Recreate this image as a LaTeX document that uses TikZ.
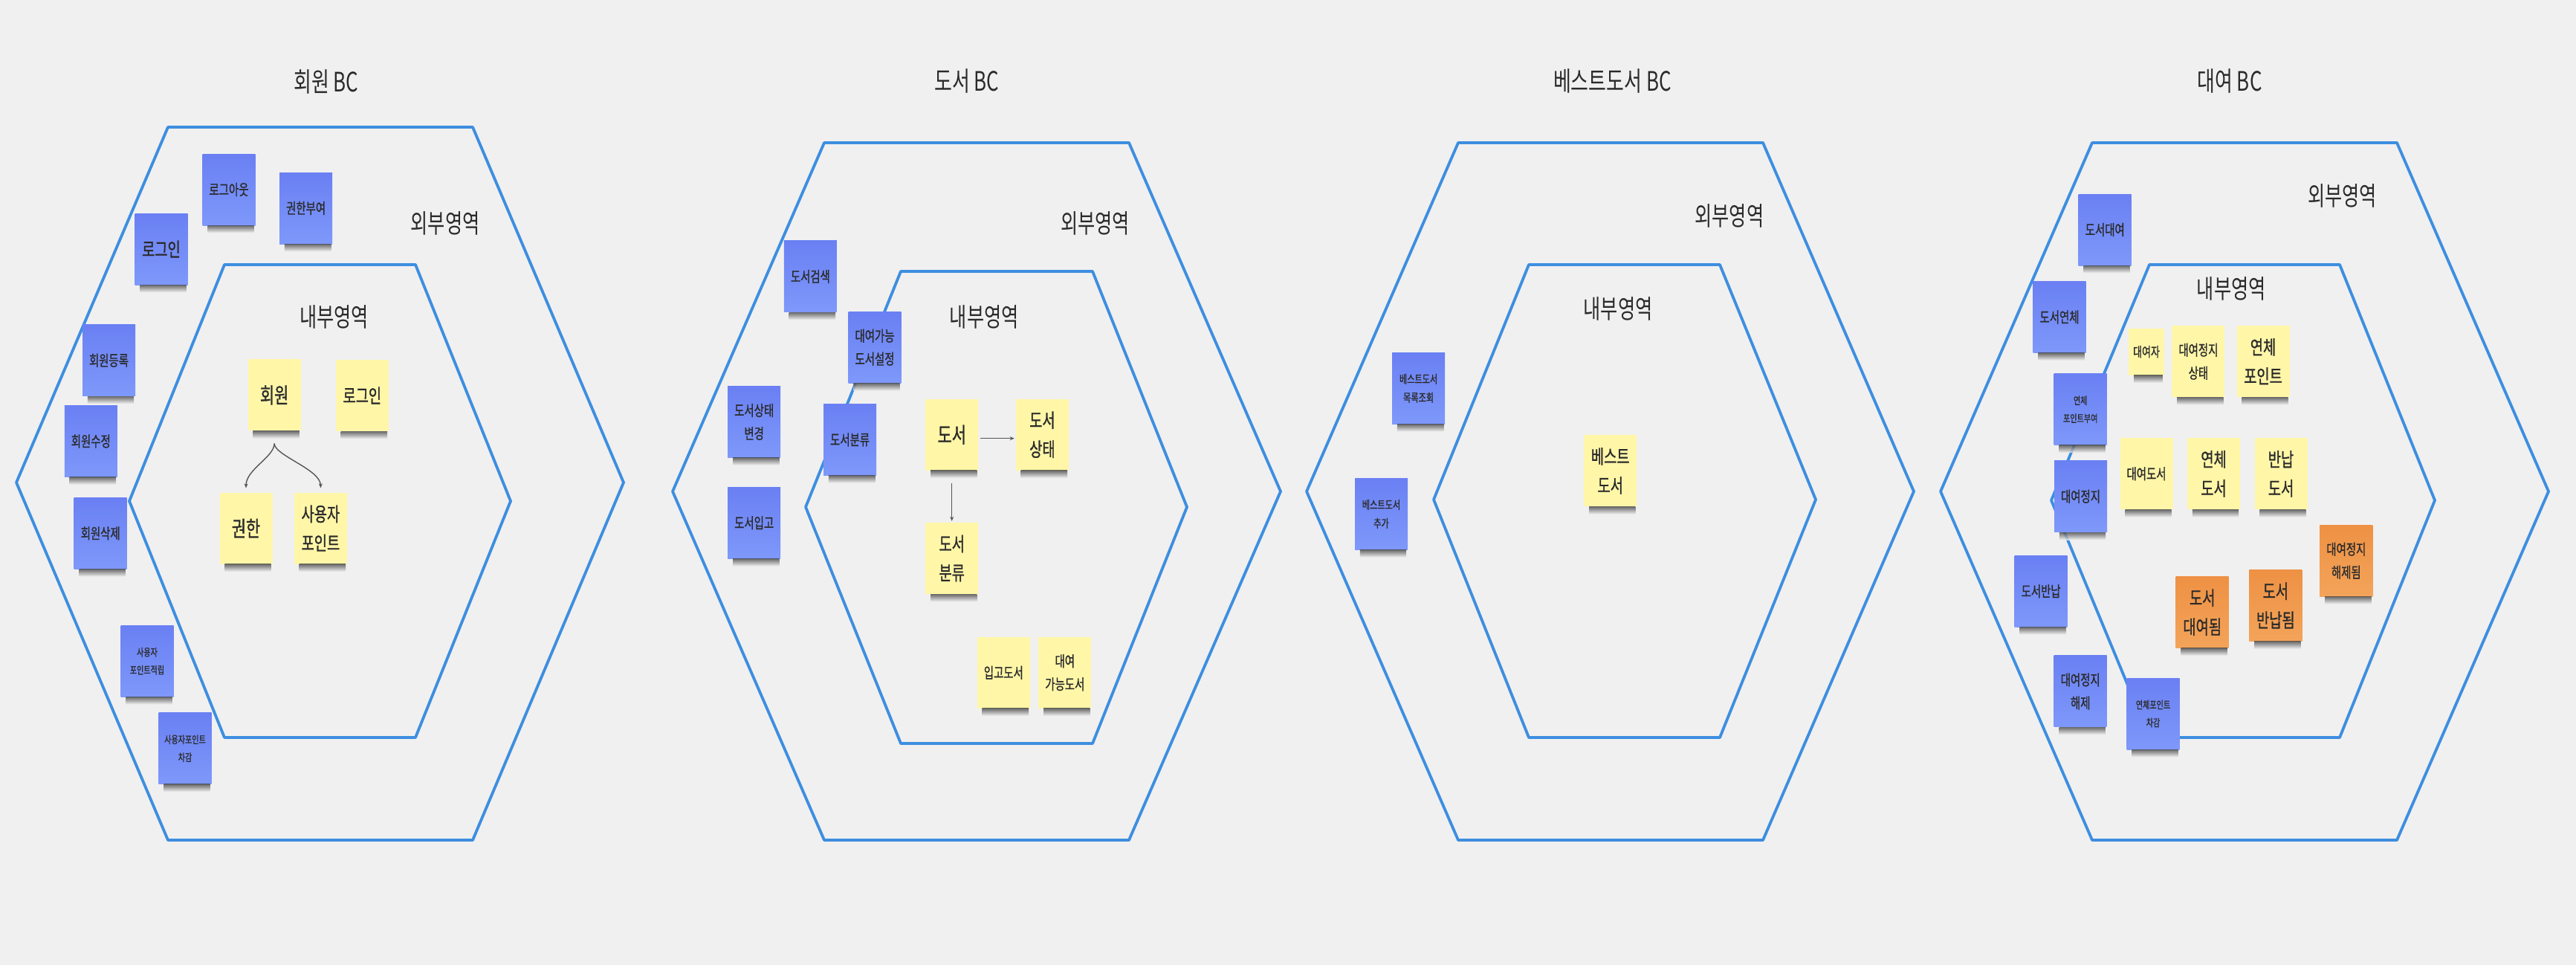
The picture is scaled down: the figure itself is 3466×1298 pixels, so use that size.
\documentclass[tikz,border=0pt]{standalone}
\usepackage{fontspec}
\newfontfamily\kr[FakeStretch=0.72]{Noto Sans CJK KR}
\newfontfamily\krb[FakeStretch=0.72,FakeBold=0.9]{Noto Sans CJK KR}
\usetikzlibrary{arrows.meta}
\definecolor{bg}{HTML}{F0F0F0}
\definecolor{hexblue}{HTML}{3D8EE0}
\definecolor{bluetop}{RGB}{106,128,243}
\definecolor{bluebot}{RGB}{126,152,250}
\definecolor{yel}{HTML}{FFF6A8}
\definecolor{orgtop}{HTML}{EE9144}
\definecolor{orgbot}{HTML}{F3A45A}
\definecolor{txt}{HTML}{2A2A2A}
\definecolor{shadowc}{HTML}{4A4A4A}
\definecolor{conncol}{HTML}{555555}
\newcommand\szT{\fontsize{36}{44}\selectfont}
\newcommand\szR{\fontsize{35}{42}\selectfont}
\newcommand\szA{\fontsize{29}{40}\selectfont}
\newcommand\szB{\fontsize{26}{39}\selectfont}
\newcommand\szC{\fontsize{20}{31}\selectfont}
\newcommand\szD{\fontsize{14}{24}\selectfont}
\newcommand\szE{\fontsize{15.5}{25}\selectfont}
\newcommand\szF{\fontsize{18}{26}\selectfont}
\tikzset{
  sticky/.style={minimum width=71pt, minimum height=96pt, inner sep=0pt, align=center, text=txt},
  bluenote/.style={sticky, top color=bluetop, bottom color=bluebot},
  yellownote/.style={sticky, fill=yel},
  orangenote/.style={sticky, top color=orgtop, bottom color=orgbot},
  smallnote/.style={minimum width=47.5pt, minimum height=63pt},
  hexline/.style={draw=hexblue, line width=3.8pt, line join=round},
  lbl/.style={text=txt, inner sep=0pt},
  conn/.style={draw=conncol, line width=1.4pt, -{Stealth[length=6pt,width=5pt]}}
}
% #1 style, #2 name, #3 position, #4 font size, #5 text
\newcommand\sticky[5]{%
  \node[#1, font=\krb#4] (#2) at (#3) {#5};
  \shade[top color=shadowc, bottom color=bg, opacity=.8]
    ([xshift=7pt]#2.south west) rectangle ([xshift=-2pt,yshift=-10pt]#2.south east);
}
\begin{document}
\begin{tikzpicture}[x=1pt,y=-1pt]
\fill[bg] (0,0) rectangle (3466,1298);
\useasboundingbox (0,0) rectangle (3466,1298);

% ---------------- hexagons
\draw[hexline] (22,649) -- (226,171) -- (636,171) -- (839,649) -- (636,1130) -- (226,1130) -- cycle;
\draw[hexline] (174,674) -- (302,356) -- (559,356) -- (687,674) -- (559,992) -- (302,992) -- cycle;
\draw[hexline] (905,661) -- (1109,192) -- (1519,192) -- (1723,661) -- (1519,1130) -- (1109,1130) -- cycle;
\draw[hexline] (1084,682) -- (1212,365) -- (1470,365) -- (1597,682) -- (1470,1000) -- (1212,1000) -- cycle;
\draw[hexline] (1758,661) -- (1962,192) -- (2372,192) -- (2575,661) -- (2372,1130) -- (1962,1130) -- cycle;
\draw[hexline] (1929,672) -- (2057,356) -- (2314,356) -- (2443,672) -- (2314,992) -- (2057,992) -- cycle;
\draw[hexline] (2611,661) -- (2815,192) -- (3225,192) -- (3429,661) -- (3225,1130) -- (2815,1130) -- cycle;
\draw[hexline] (2760,673) -- (2892,356) -- (3148,356) -- (3276,673) -- (3148,992) -- (2892,992) -- cycle;

% ---------------- titles and area labels
\node[lbl, font=\kr\szT] (t1) at (438.8,110.5) {회원 BC};
\node[lbl, font=\kr\szT] (t2) at (1300.7,109) {도서 BC};
\node[lbl, font=\kr\szT] (t3) at (2169.4,109) {베스트도서 BC};
\node[lbl, font=\kr\szT] (t4) at (3000,109) {대여 BC};
\node[lbl, font=\kr\szR] (o1) at (599,300.6) {외부영역};
\node[lbl, font=\kr\szR] (o2) at (1473.4,300.6) {외부영역};
\node[lbl, font=\kr\szR] (o3) at (2326.8,290) {외부영역};
\node[lbl, font=\kr\szR] (o4) at (3151.4,263.4) {외부영역};
\node[lbl, font=\kr\szR] (i1) at (449.7,426.2) {내부영역};
\node[lbl, font=\kr\szR] (i2) at (1324.2,426.2) {내부영역};
\node[lbl, font=\kr\szR] (i3) at (2177.1,415) {내부영역};
\node[lbl, font=\kr\szR] (i4) at (3002.3,388.3) {내부영역};

% ---------------- 회원 BC
\sticky{bluenote}{bLogout}{308,255}{\szC}{로그아웃}
\sticky{bluenote}{bGrant}{411.6,280}{\szC}{권한부여}
\sticky{bluenote}{bLogin}{217,335}{\szB}{로그인}
\sticky{bluenote}{bJoin}{146.5,484.8}{\szC}{회원등록}
\sticky{bluenote}{bEdit}{122.3,593.5}{\szC}{회원수정}
\sticky{bluenote}{bDel}{135.2,717.3}{\szC}{회원삭제}
\sticky{bluenote}{bPtAdd}{198,889.2}{\szD}{사용자\\포인트적립}
\sticky{bluenote}{bPtSub}{249,1006.7}{\szD}{사용자포인트\\차감}
\sticky{yellownote}{yMember}{369.1,531.4}{\szA}{회원}
\sticky{yellownote}{yLogin}{487.3,532}{\szB}{로그인}
\sticky{yellownote}{yAuth}{331,710.6}{\szA}{권한}
\sticky{yellownote}{yPoint}{431.4,710.6}{\szB}{사용자\\포인트}
\coordinate (split1) at ([yshift=-17pt]yMember.south);
\draw[conn] (split1) .. controls +(0,18) and +(0,-25) .. ([yshift=6pt]yAuth.north);
\draw[conn] (split1) .. controls +(0,16) and +(0,-25) .. ([yshift=6pt]yPoint.north);

% ---------------- 도서 BC
\sticky{bluenote}{bSearch}{1090.4,371.9}{\szC}{도서검색}
\sticky{bluenote}{bAvail}{1177,467.3}{\szC}{대여가능\\도서설정}
\sticky{bluenote}{bState}{1014.7,567.5}{\szC}{도서상태\\변경}
\sticky{bluenote}{bCat}{1143.6,591.4}{\szC}{도서분류}
\sticky{bluenote}{bIn}{1014.7,703.3}{\szC}{도서입고}
\sticky{yellownote}{yBook}{1280.7,584.7}{\szA}{도서}
\sticky{yellownote}{yBState}{1402.4,584.7}{\szB}{도서\\상태}
\sticky{yellownote}{yBCat}{1280.7,751}{\szB}{도서\\분류}
\sticky{yellownote}{yInBook}{1350.3,904.7}{\szC}{입고도서}
\sticky{yellownote}{yAvBook}{1432.8,904.7}{\szC}{대여\\가능도서}
\draw[conn, shorten <=3pt, shorten >=2pt] ([yshift=-5pt]yBook.east) -- ([yshift=-5pt]yBState.west);
\draw[conn, shorten <=17pt, shorten >=2pt] (yBook.south) -- (yBCat.north);

% ---------------- 베스트도서 BC
\sticky{bluenote}{bBestList}{1908.6,522.3}{\szE}{베스트도서\\목록조회}
\sticky{bluenote}{bBestAdd}{1858.5,691.4}{\szE}{베스트도서\\추가}
\sticky{yellownote}{yBest}{2166.7,633.4}{\szB}{베스트\\도서}

% ---------------- 대여 BC
\sticky{bluenote}{bRent}{2832.2,309}{\szC}{도서대여}
\sticky{bluenote}{bOver}{2771,426.5}{\szC}{도서연체}
\sticky{bluenote}{bOverPt}{2799.2,550.7}{\szD}{연체\\포인트부여}
\sticky{bluenote}{bStop}{2799.5,667.8}{\szC}{대여정지}
\sticky{bluenote}{bReturn}{2746.1,795.2}{\szC}{도서반납}
\sticky{bluenote}{bRelease}{2799.2,929.9}{\szC}{대여정지\\해제}
\sticky{bluenote}{bPtSub2}{2897,960}{\szD}{연체포인트\\차감}
\sticky{yellownote,smallnote}{yRenter}{2888,473.2}{\szF}{대여자}
\sticky{yellownote}{yStopState}{2957.9,486.2}{\szC}{대여정지\\상태}
\sticky{yellownote}{yOverPt}{3045,486.2}{\szB}{연체\\포인트}
\sticky{yellownote}{yRentBook}{2888,637.3}{\szC}{대여도서}
\sticky{yellownote}{yOverBook}{2978.5,637.3}{\szB}{연체\\도서}
\sticky{yellownote}{yRetBook}{3069,637.3}{\szB}{반납\\도서}
\sticky{orangenote}{oReleased}{3156.8,754.2}{\szC}{대여정지\\해제됨}
\sticky{orangenote}{oRented}{2963.2,823.7}{\szB}{도서\\대여됨}
\sticky{orangenote}{oReturned}{3061.8,814.5}{\szB}{도서\\반납됨}
\end{tikzpicture}
\end{document}
